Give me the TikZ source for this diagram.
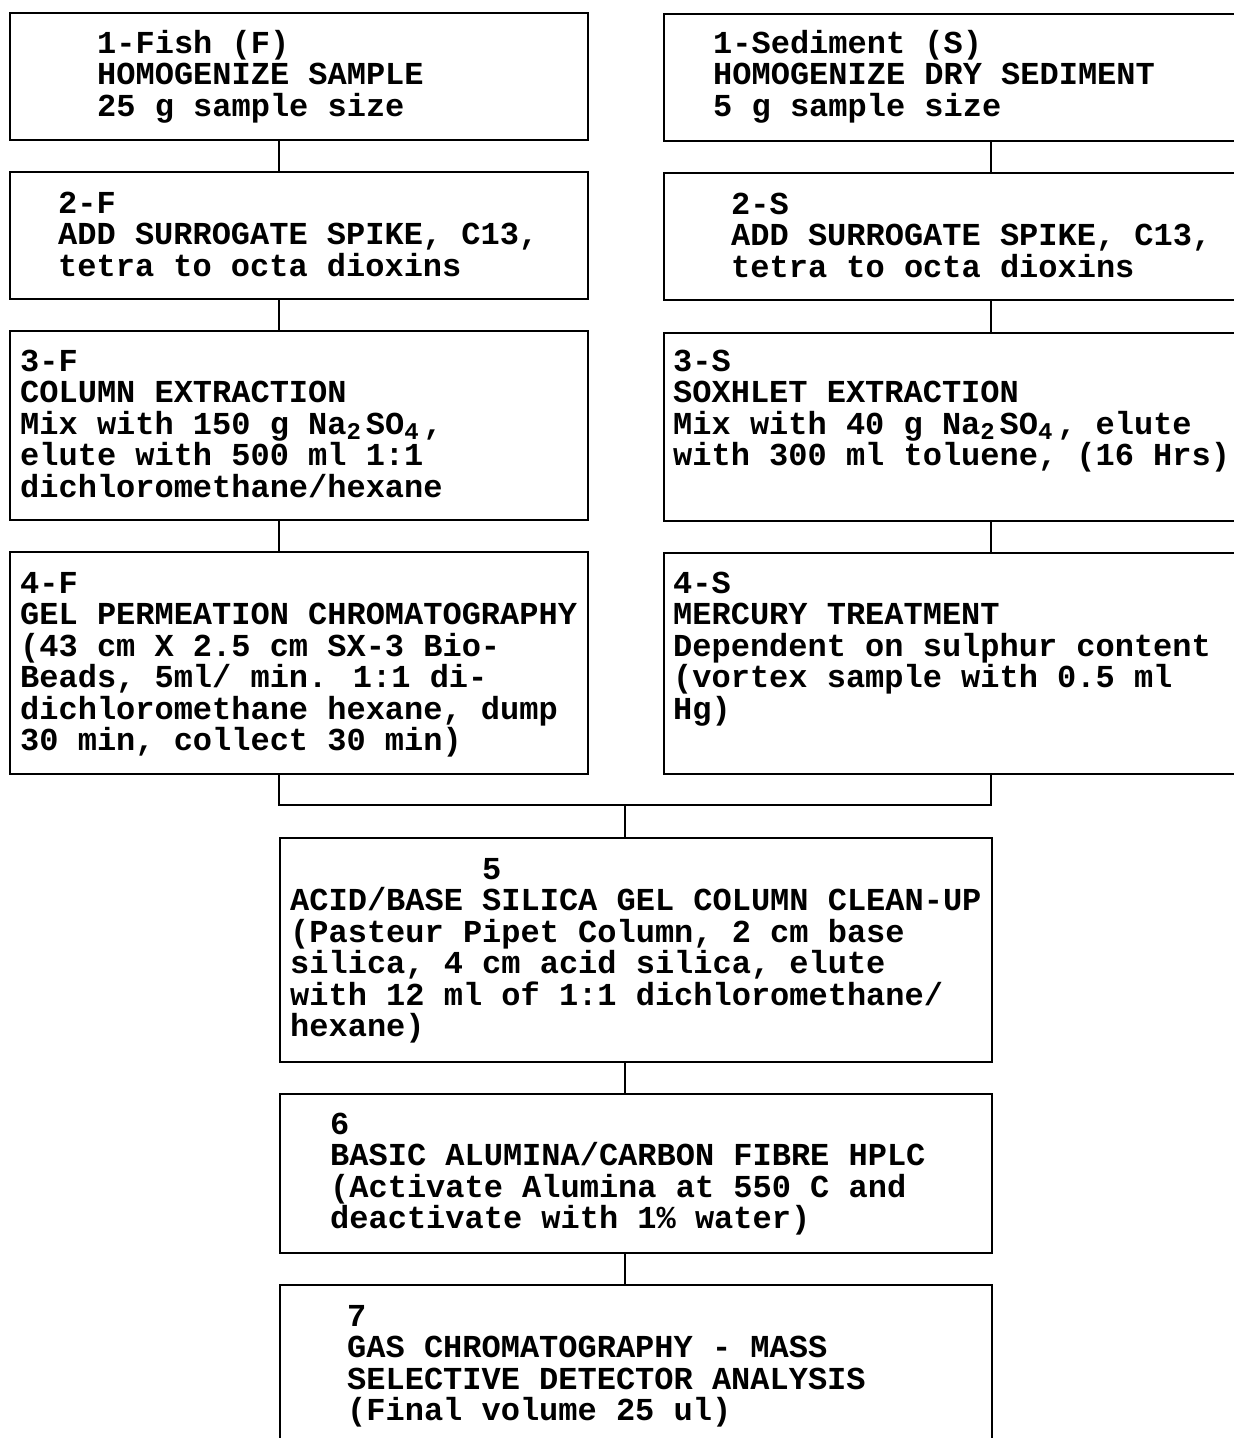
\documentclass[tikz,border=0pt]{standalone}
\usepackage{fontspec}
\setmainfont{Liberation Mono}
\newcommand\subdig[1]{\makebox[19.2pt][l]{\raisebox{-5pt}{\fontsize{24pt}{24pt}\selectfont #1}}}
\newcommand\firststrut{\rule{0pt}{26pt}}
\tikzset{
  stepbox/.style={draw, line width=2.2pt, rectangle, inner sep=0pt, anchor=north west},
  txt/.style={anchor=north west, inner sep=0pt, align=left,
    font=\fontsize{32pt}{31.5pt}\selectfont\bfseries},
  conn/.style={line width=2.2pt}
}
\begin{document}
\begin{tikzpicture}[x=1pt,y=-1pt]
\useasboundingbox (0,0) rectangle (1234,1438);
\clip (0,0) rectangle (1234,1438);
\fill[white] (0,0) rectangle (1234,1438);
% boxes
\node[stepbox, minimum width=578pt, minimum height=127pt] (f1) at (9,12) {};
\node[stepbox, minimum width=600pt, minimum height=127pt] (s1) at (663,13) {};
\node[stepbox, minimum width=578pt, minimum height=127pt] (f2) at (9,171) {};
\node[stepbox, minimum width=600pt, minimum height=127pt] (s2) at (663,172) {};
\node[stepbox, minimum width=578pt, minimum height=189pt] (f3) at (9,330) {};
\node[stepbox, minimum width=600pt, minimum height=188pt] (s3) at (663,332) {};
\node[stepbox, minimum width=578pt, minimum height=222pt] (f4) at (9,551) {};
\node[stepbox, minimum width=600pt, minimum height=221pt] (s4) at (663,552) {};
\node[stepbox, minimum width=712pt, minimum height=224pt] (b5) at (279,837) {};
\node[stepbox, minimum width=712pt, minimum height=159pt] (b6) at (279,1093) {};
\node[stepbox, minimum width=712pt, minimum height=200pt] (b7) at (279,1284) {};
% texts
\node[txt] (t1f) at (97,27) {\firststrut 1-Fish (F)\\HOMOGENIZE SAMPLE\\25 g sample size};
\node[txt] (t1s) at (713,27) {\firststrut 1-Sediment (S)\\HOMOGENIZE DRY SEDIMENT\\5 g sample size};
\node[txt] (t2f) at (58,187) {\firststrut 2-F\\ADD SURROGATE SPIKE, C13,\\tetra to octa dioxins};
\node[txt] (t2s) at (731,188) {\firststrut 2-S\\ADD SURROGATE SPIKE, C13,\\tetra to octa dioxins};
\node[txt] (t3f) at (20,345) {\firststrut 3-F\\COLUMN EXTRACTION\\Mix with 150 g Na\subdig{2}SO\subdig{4},\\elute with 500 ml 1:1\\dichloromethane/hexane};
\node[txt] (t3s) at (673,345) {\firststrut 3-S\\SOXHLET EXTRACTION\\Mix with 40 g Na\subdig{2}SO\subdig{4}, elute\\with 300 ml toluene, (16 Hrs)};
\node[txt] (t4f) at (20,567) {\firststrut 4-F\\GEL PERMEATION CHROMATOGRAPHY\\(43 cm X 2.5 cm SX-3 Bio-\\Beads, 5ml/ min. 1:1 di-\\dichloromethane hexane, dump\\30 min, collect 30 min)};
\node[txt] (t4s) at (673,567) {\firststrut 4-S\\MERCURY TREATMENT\\Dependent on sulphur content\\(vortex sample with 0.5 ml\\Hg)};
\node[txt] (t5) at (290,853) {\firststrut\hspace*{192pt}5\\ACID/BASE SILICA GEL COLUMN CLEAN-UP\\(Pasteur Pipet Column, 2 cm base\\silica, 4 cm acid silica, elute\\with 12 ml of 1:1 dichloromethane/\\hexane)};
\node[txt] (t6) at (330,1108) {\firststrut 6\\BASIC ALUMINA/CARBON FIBRE HPLC\\(Activate Alumina at 550 C and\\deactivate with 1\% water)};
\node[txt] (t7) at (347,1300) {\firststrut 7\\GAS CHROMATOGRAPHY - MASS\\SELECTIVE DETECTOR ANALYSIS\\(Final volume 25 ul)};
% connectors
\coordinate (lx) at (279,0);
\coordinate (rx) at (991,0);
\coordinate (cx) at (625,0);
\coordinate (jn) at (625,805);
\draw[conn] (f1.south -| lx) -- (f2.north -| lx);
\draw[conn] (f2.south -| lx) -- (f3.north -| lx);
\draw[conn] (f3.south -| lx) -- (f4.north -| lx);
\draw[conn] (s1.south -| rx) -- (s2.north -| rx);
\draw[conn] (s2.south -| rx) -- (s3.north -| rx);
\draw[conn] (s3.south -| rx) -- (s4.north -| rx);
\draw[conn] (f4.south -| lx) |- (jn) -| (s4.south -| rx);
\draw[conn] (jn) -- (b5.north -| jn);
\draw[conn] (b5.south -| cx) -- (b6.north -| cx);
\draw[conn] (b6.south -| cx) -- (b7.north -| cx);
\end{tikzpicture}
\end{document}
